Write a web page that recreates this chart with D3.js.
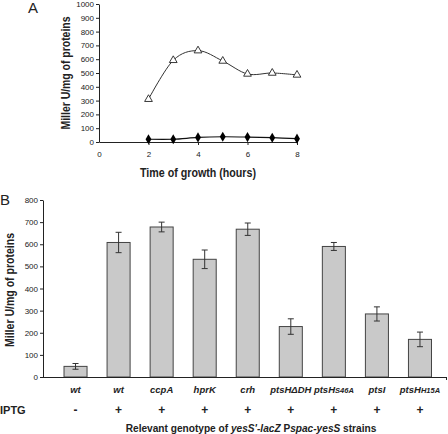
<!DOCTYPE html>
<html><head><meta charset="utf-8">
<script src="https://cdn.jsdelivr.net/npm/d3@7"></script>
<style>
html,body{margin:0;padding:0;background:#fff;}
svg{display:block;font-family:"Liberation Sans",Arial,sans-serif;}
</style></head>
<body>
<svg id="c" width="448" height="434"></svg>
<script>
// ---- Panel A data ----
const timeA = [2, 3, 4, 5, 6, 7, 8];
const inducedA = [310, 592, 662, 587, 493, 500, 486];
const uninducedA = [20, 20, 33, 38, 36, 31, 24];
const yTicksA = [0,100,200,300,400,500,600,700,800,900,1000];
const xTicksA = [0, 2, 4, 6, 8];

// ---- Panel B data ----
const genoMain = ["wt","wt","ccpA","hprK","crh","ptsH\u0394DH","ptsH","ptsI","ptsH"];
const genoSub  = ["","","","","","","S46A","","H15A"];
const iptg     = ["-","+","+","+","+","+","+","+","+"];
const activityB = [48, 608, 678, 532, 668, 228, 590, 285, 170];
const errorB    = [13, 46, 22, 42, 28, 35, 18, 32, 33];
const yTicksB = [0,100,200,300,400,500,600,700,800];

const svg = d3.select("#c");
const ink = "#222";

function fit(sel, w){ sel.attr("textLength", w).attr("lengthAdjust","spacingAndGlyphs"); }
function fitSize(sel, w){
  const fs = +sel.attr("font-size");
  const len = sel.node().getComputedTextLength();
  sel.attr("font-size", (fs*w/len).toFixed(2));
}

// ================= Panel A =================
const xA = d3.scaleLinear().domain([0,8]).range([99,297]);
const yA = d3.scaleLinear().domain([0,1000]).range([142,4]);
const gA = svg.append("g");

const axYA = gA.append("g").attr("transform",`translate(${xA(0)},0)`)
  .call(d3.axisLeft(yA).tickValues(yTicksA).tickFormat(d3.format("d")).tickSize(3).tickSizeOuter(0).tickPadding(2));
const axXA = gA.append("g").attr("transform",`translate(0,${yA(0)})`)
  .call(d3.axisBottom(xA).tickValues(xTicksA).tickFormat(d3.format("d")).tickSize(3).tickSizeOuter(0).tickPadding(6));
[axYA, axXA].forEach(a=>{
  a.selectAll("path,line").attr("stroke",ink);
  a.selectAll("text").attr("font-size",8).attr("fill",ink).attr("font-family","Liberation Sans, Arial");
});
axXA.selectAll(".tick").filter(d=>d===0).select("line").remove();

const lineGen = d3.line().x((d,i)=>xA(timeA[i])).y(d=>yA(d)).curve(d3.curveCatmullRom.alpha(0));
gA.append("path").datum(inducedA).attr("d",lineGen).attr("fill","none").attr("stroke","#333").attr("stroke-width",1);
gA.append("path").datum(uninducedA).attr("d",lineGen).attr("fill","none").attr("stroke","#111").attr("stroke-width",1.2);

gA.selectAll(".tri").data(inducedA).join("path")
  .attr("transform",(d,i)=>`translate(${xA(timeA[i])},${yA(d)})`)
  .attr("d",d3.symbol(d3.symbolTriangle,26)())
  .attr("fill","#fff").attr("stroke","#222").attr("stroke-width",0.9);
gA.selectAll(".dia").data(uninducedA).join("path")
  .attr("transform",(d,i)=>`translate(${xA(timeA[i])},${yA(d)})`)
  .attr("d",d3.symbol(d3.symbolDiamond,30)())
  .attr("fill","#000");

gA.append("text").attr("x",28).attr("y",13).attr("font-size",15).attr("fill",ink).text("A");
const ylA = gA.append("text").attr("transform","translate(70,73) rotate(-90)")
  .attr("text-anchor","middle").attr("font-size",12).attr("font-weight","bold").attr("fill",ink)
  .text("Miller U/mg of proteins");
fit(ylA,113);
const xlA = gA.append("text").attr("x",198).attr("y",177).attr("text-anchor","middle")
  .attr("font-size",12).attr("font-weight","bold").attr("fill",ink).text("Time of growth (hours)");
fit(xlA,116);

// ================= Panel B =================
const xB = d3.scaleBand().domain(d3.range(genoMain.length)).range([54,441.5])
  .paddingInner(0.465).paddingOuter(0.2325);
const yB = d3.scaleLinear().domain([0,800]).range([377,200]);
const gB = svg.append("g");

const axYB = gB.append("g").attr("transform","translate(43,0)")
  .call(d3.axisLeft(yB).tickValues(yTicksB).tickFormat(d3.format("d")).tickSize(3).tickSizeOuter(0).tickPadding(2));
axYB.selectAll("path,line").attr("stroke",ink);
axYB.selectAll("text").attr("font-size",8).attr("fill",ink).attr("font-family","Liberation Sans, Arial");

gB.selectAll(".bar").data(activityB).join("rect")
  .attr("x",(d,i)=>xB(i)).attr("width",xB.bandwidth())
  .attr("y",d=>yB(d)).attr("height",d=>yB(0)-yB(d))
  .attr("fill","#c9c9c9").attr("stroke","#444").attr("stroke-width",1);

const eb = gB.selectAll(".err").data(activityB).join("g");
eb.append("line").attr("x1",(d,i)=>xB(i)+xB.bandwidth()/2).attr("x2",(d,i)=>xB(i)+xB.bandwidth()/2)
  .attr("y1",(d,i)=>yB(d+errorB[i])).attr("y2",(d,i)=>yB(d-errorB[i])).attr("stroke","#333");
eb.append("line").attr("x1",(d,i)=>xB(i)+xB.bandwidth()/2-3).attr("x2",(d,i)=>xB(i)+xB.bandwidth()/2+3)
  .attr("y1",(d,i)=>yB(d+errorB[i])).attr("y2",(d,i)=>yB(d+errorB[i])).attr("stroke","#333");
eb.append("line").attr("x1",(d,i)=>xB(i)+xB.bandwidth()/2-3).attr("x2",(d,i)=>xB(i)+xB.bandwidth()/2+3)
  .attr("y1",(d,i)=>yB(d-errorB[i])).attr("y2",(d,i)=>yB(d-errorB[i])).attr("stroke","#333");

// x axis line
gB.append("line").attr("x1",43).attr("x2",447).attr("y1",yB(0)+0.5).attr("y2",yB(0)+0.5).attr("stroke",ink);
gB.append("line").attr("x1",446.5).attr("x2",446.5).attr("y1",yB(0)).attr("y2",yB(0)+3).attr("stroke",ink);

// category labels
const cl = gB.selectAll(".cat").data(genoMain).join("text")
  .attr("x",(d,i)=>xB(i)+xB.bandwidth()/2).attr("y",393).attr("text-anchor","middle")
  .attr("font-size",9.5).attr("font-weight","bold").attr("font-style","italic").attr("fill",ink);
cl.append("tspan").text(d=>d);
cl.append("tspan").attr("font-size",7.5).text((d,i)=>genoSub[i]);

gB.selectAll(".ip").data(iptg).join("text")
  .attr("x",(d,i)=>xB(i)+xB.bandwidth()/2).attr("y",414).attr("text-anchor","middle")
  .attr("font-size",12).attr("font-weight","bold").attr("fill",ink).text(d=>d);
gB.append("text").attr("x",0).attr("y",414).attr("font-size",11).attr("font-weight","bold").attr("fill",ink).text("IPTG");

gB.append("text").attr("x",0).attr("y",205).attr("font-size",15).attr("fill",ink).text("B");
const ylB = gB.append("text").attr("transform","translate(14,290) rotate(-90)")
  .attr("text-anchor","middle").attr("font-size",12).attr("font-weight","bold").attr("fill",ink)
  .text("Miller U/mg of proteins");
fit(ylB,114);

const tB = gB.append("text").attr("x",251).attr("y",432).attr("text-anchor","middle")
  .attr("font-size",11).attr("font-weight","bold").attr("fill",ink);
tB.append("tspan").text("Relevant genotype of ");
tB.append("tspan").attr("font-style","italic").text("yesS'-lacZ");
tB.append("tspan").text(" P");
tB.append("tspan").attr("font-style","italic").text("spac-yesS");
tB.append("tspan").text(" strains");
fitSize(tB,251);
</script>
</body></html>
